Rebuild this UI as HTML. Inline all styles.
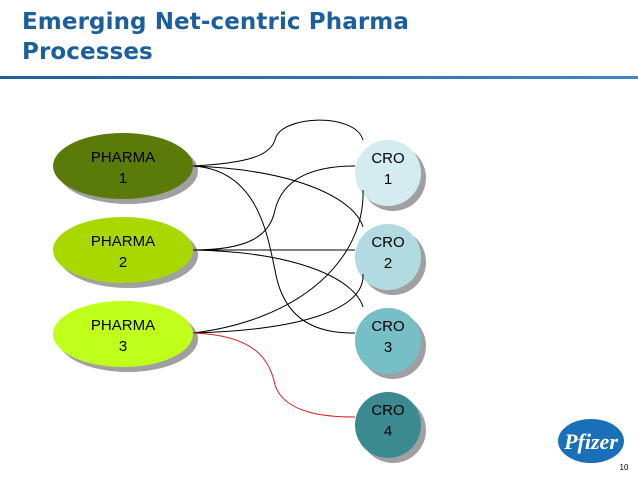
<!DOCTYPE html>
<html><head><meta charset="utf-8"><style>
body{margin:0;width:638px;height:479px;background:#fff;overflow:hidden;position:relative;font-family:"Liberation Sans",sans-serif}
.t{position:absolute;left:22px;top:7px;font:bold 23px/30px "DejaVu Sans",sans-serif;color:#1c5f9c;letter-spacing:0.1px}
.bar{position:absolute;left:0;top:76px;width:638px;height:3px;background:linear-gradient(90deg,#1c5f9c,#3f86c4)}
</style></head><body>
<div class="t">Emerging Net-centric Pharma<br>Processes</div>
<div class="bar"></div>
<svg width="638" height="479" style="position:absolute;left:0;top:0">
<g fill="#a0a0a0">
<ellipse cx="128" cy="171" rx="70" ry="33"/><ellipse cx="128" cy="255" rx="70" ry="33"/><ellipse cx="128" cy="339" rx="70" ry="33"/>
<circle cx="393" cy="178" r="33"/><circle cx="393" cy="262" r="33"/><circle cx="393" cy="346" r="33"/><circle cx="393" cy="430" r="33"/>
</g>
<ellipse cx="123" cy="166" rx="70" ry="33" fill="#5a7a0a"/>
<ellipse cx="123" cy="250" rx="70" ry="33" fill="#a8d800"/>
<ellipse cx="123" cy="334" rx="70" ry="33" fill="#c0ff1a"/>
<circle cx="388" cy="173" r="33" fill="#d4ebf0"/>
<circle cx="388" cy="257" r="33" fill="#b1dbe1"/>
<circle cx="388" cy="341" r="33" fill="#76bfc6"/>
<circle cx="388" cy="425" r="33" fill="#3b8a8f"/>
<g fill="none" stroke="#000" stroke-width="1">
<path d="M193,166 C250,163 270,155 275,140 C280,115 355,112 363,140"/>
<path d="M193,166 C300,170 355,200 363,227"/>
<path d="M193,166 C260,170 268,240 275,270 C285,330 330,333 355,333"/>
<path d="M193,250 C250,250 270,235 275,210 C285,170 330,166 355,166"/>
<path d="M193,250 L355,250"/>
<path d="M193,250 C300,252 355,280 363,307"/>
<path d="M193,333 C300,320 365,260 363,190"/>
<path d="M193,333 C300,330 365,310 363,274"/>
</g>
<path d="M193,333 C255,335 270,360 275,385 C285,415 330,417 355,417" fill="none" stroke="#d82020"/>
<g font-family="Liberation Sans,sans-serif" font-size="15" text-anchor="middle" fill="#000">
<text x="123" y="162">PHARMA</text><text x="123" y="183">1</text>
<text x="123" y="246">PHARMA</text><text x="123" y="267">2</text>
<text x="123" y="330">PHARMA</text><text x="123" y="351">3</text>
<text x="388" y="163">CRO</text><text x="388" y="184">1</text>
<text x="388" y="247">CRO</text><text x="388" y="268">2</text>
<text x="388" y="331">CRO</text><text x="388" y="352">3</text>
<text x="388" y="415">CRO</text><text x="388" y="436">4</text>
</g>
<ellipse cx="591" cy="441" rx="33" ry="22" fill="#1a70b8"/>
<text x="591" y="449" font-family="Liberation Serif,serif" font-style="italic" font-weight="bold" font-size="22" fill="#fff" text-anchor="middle">Pfizer</text>
<text x="624" y="470" font-family="Liberation Sans,sans-serif" font-size="8" fill="#000" text-anchor="middle">10</text>
</svg>
</body></html>
